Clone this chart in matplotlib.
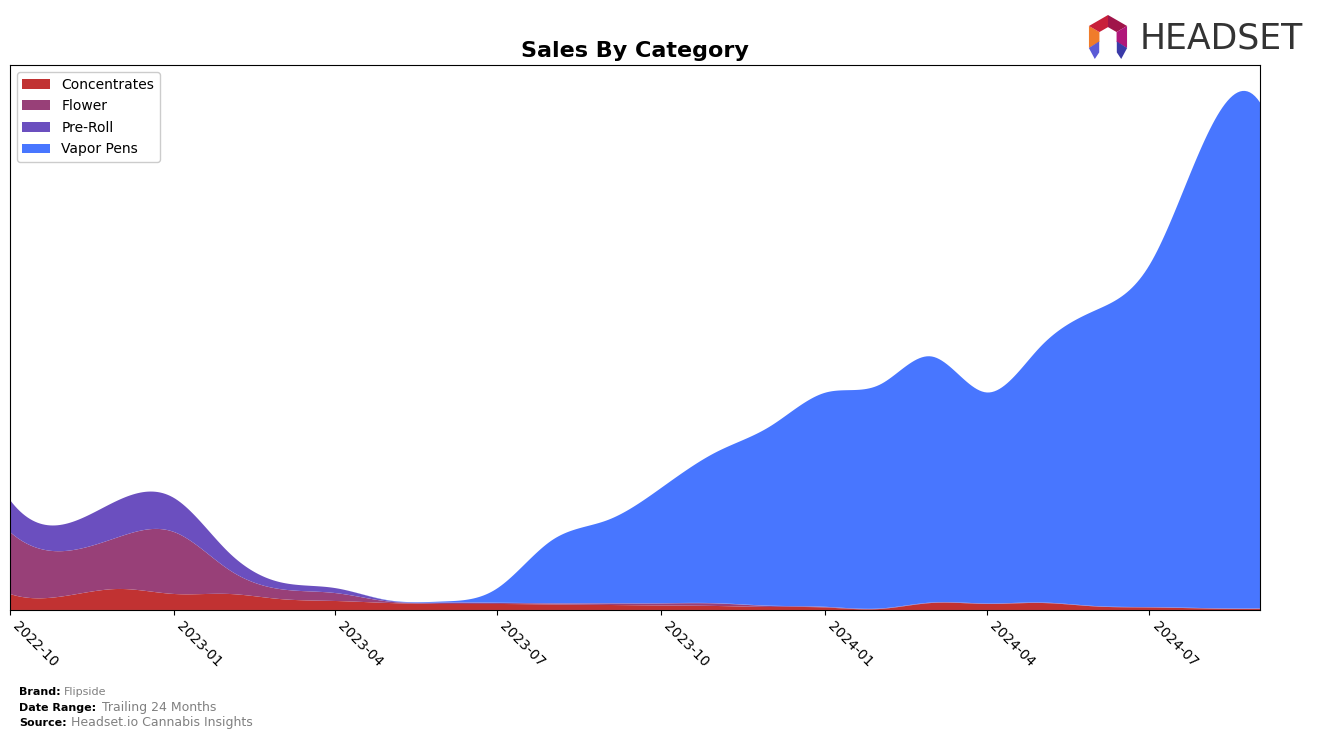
import matplotlib
matplotlib.use("Agg")
import matplotlib.pyplot as plt
import matplotlib.dates as mdates
from matplotlib.patches import Polygon
import numpy as np
import pandas as pd

# monthly sales by category (arbitrary units)
months = pd.date_range("2022-10-01", periods=24, freq="MS")
concentrates = [16, 14, 21, 16, 16, 11, 9, 7, 6, 6, 5.5, 5,
                4.5, 4, 3, 2.5, 1, 7, 6, 7, 3.5, 2.5, 1.5, 1.2]
flower = [62, 45, 52, 62, 24, 10, 8, 1.5, 1, 1, 1, 1.5,
          2, 2.5, 1, 0.5, 0.3, 0.3, 0.3, 0.3, 0.2, 0.2, 0.2, 0.2]
pre_roll = [32, 27, 37, 34, 17, 7, 5, 1, 0.5, 0.3, 0.3, 0.3,
            0.3, 0.3, 0.3, 0.2, 0.2, 0.2, 0.2, 0.2, 0.2, 0.2, 0.2, 0.2]
vapor_pens = [0, 0, 0, 0, 0, 0, 0, 0.3, 1, 14, 63, 83,
              115, 151, 179, 214, 224, 246, 211, 256, 296, 342, 468, 506]

labels = ["Concentrates", "Flower", "Pre-Roll", "Vapor Pens"]
colors = ["#C13232", "#984078", "#6B4FBF", "#4876FF"]

brand = "Flipside"
date_range = "Trailing 24 Months"
source = "Headset.io Cannabis Insights"


def spline(x, y, xs):
    # cubic spline, not-a-knot ends
    x = np.asarray(x, float)
    y = np.asarray(y, float)
    n = len(x)
    h = np.diff(x)
    A = np.zeros((n, n))
    b = np.zeros(n)
    for i in range(1, n - 1):
        A[i, i - 1] = h[i - 1]
        A[i, i] = 2 * (h[i - 1] + h[i])
        A[i, i + 1] = h[i]
        b[i] = 6 * ((y[i + 1] - y[i]) / h[i] - (y[i] - y[i - 1]) / h[i - 1])
    A[0, 0] = 1 / h[0]
    A[0, 1] = -(1 / h[0] + 1 / h[1])
    A[0, 2] = 1 / h[1]
    A[-1, -3] = 1 / h[-2]
    A[-1, -2] = -(1 / h[-2] + 1 / h[-1])
    A[-1, -1] = 1 / h[-1]
    M = np.linalg.solve(A, b)
    idx = np.clip(np.searchsorted(x, xs) - 1, 0, n - 2)
    x0, x1 = x[idx], x[idx + 1]
    hh = x1 - x0
    s = (M[idx] * (x1 - xs) ** 3 / (6 * hh) + M[idx + 1] * (xs - x0) ** 3 / (6 * hh)
         + (y[idx] / hh - M[idx] * hh / 6) * (x1 - xs)
         + (y[idx + 1] / hh - M[idx + 1] * hh / 6) * (xs - x0))
    return np.clip(s, 0, None)


xn = mdates.date2num(months)
xs = np.linspace(xn[0], xn[-1], 500)
series = [spline(xn, s, xs) for s in [concentrates, flower, pre_roll, vapor_pens]]

fig = plt.figure(figsize=(13.24, 7.39), dpi=100)
ax = fig.add_axes([0.00755, 0.1746, 0.9441, 0.7374])
ax.stackplot(mdates.num2date(xs), *series, labels=labels, colors=colors, linewidth=0)

ax.set_xlim(months[0], months[-1])
ax.set_ylim(0, 545)
ax.set_yticks([])
ax.xaxis.set_major_locator(mdates.MonthLocator(bymonth=[1, 4, 7, 10]))
ax.xaxis.set_major_formatter(mdates.DateFormatter("%Y-%m"))
plt.setp(ax.get_xticklabels(), rotation=-45, ha="left", fontsize=10)
for sp in ax.spines.values():
    sp.set_color("black")

ax.set_title("Sales By Category", fontsize=16, fontweight="bold", pad=6)
ax.legend(loc="upper left", fontsize=10, handlelength=2, framealpha=1,
          labelspacing=0.55)

# footer
fig.text(0.0144, 0.0595, "Brand:", fontsize=8, fontweight="bold")
fig.text(0.048, 0.0595, brand, fontsize=8, color="gray")
fig.text(0.0144, 0.0385, "Date Range:", fontsize=8, fontweight="bold")
fig.text(0.077, 0.0385, date_range, fontsize=9, color="gray")
fig.text(0.0144, 0.0175, "Source:", fontsize=8, fontweight="bold")
fig.text(0.054, 0.0175, source, fontsize=9, color="gray")

# logo
fig.text(0.861, 0.948, "HEADSET", fontsize=25, color="#333333",
         va="center", ha="left")
cx, cy, r = 1108, 37, 22
ang = np.deg2rad([210, 150, 90, 30, -30])
pts = [(cx + r * np.cos(a), cy - r * np.sin(a)) for a in ang]
inner = [(cx + 0.45 * r * np.cos(a), cy - 0.45 * r * np.sin(a)) for a in ang]
seg_cols = ["#F07C2A", "#C8203A", "#A0154A", "#B0177A"]
for k in range(4):
    poly = [pts[k], pts[k + 1], inner[k + 1], inner[k]]
    poly = [(px / 1324, 1 - py / 739) for px, py in poly]
    fig.patches.append(Polygon(poly, closed=True, transform=fig.transFigure,
                               facecolor=seg_cols[k], edgecolor="none"))
for side, col in [(-1, "#5B5BD6"), (1, "#3A3AA8")]:
    poly = [(cx + side * r * 0.87, cy + r * 0.5), (cx + side * r * 0.4, cy + r * 0.2),
            (cx + side * r * 0.4, cy + r * 0.7), (cx + side * r * 0.6, cy + r * 1.0)]
    poly = [(px / 1324, 1 - py / 739) for px, py in poly]
    fig.patches.append(Polygon(poly, closed=True, transform=fig.transFigure,
                               facecolor=col, edgecolor="none"))

fig.savefig("out.png", dpi=100)
